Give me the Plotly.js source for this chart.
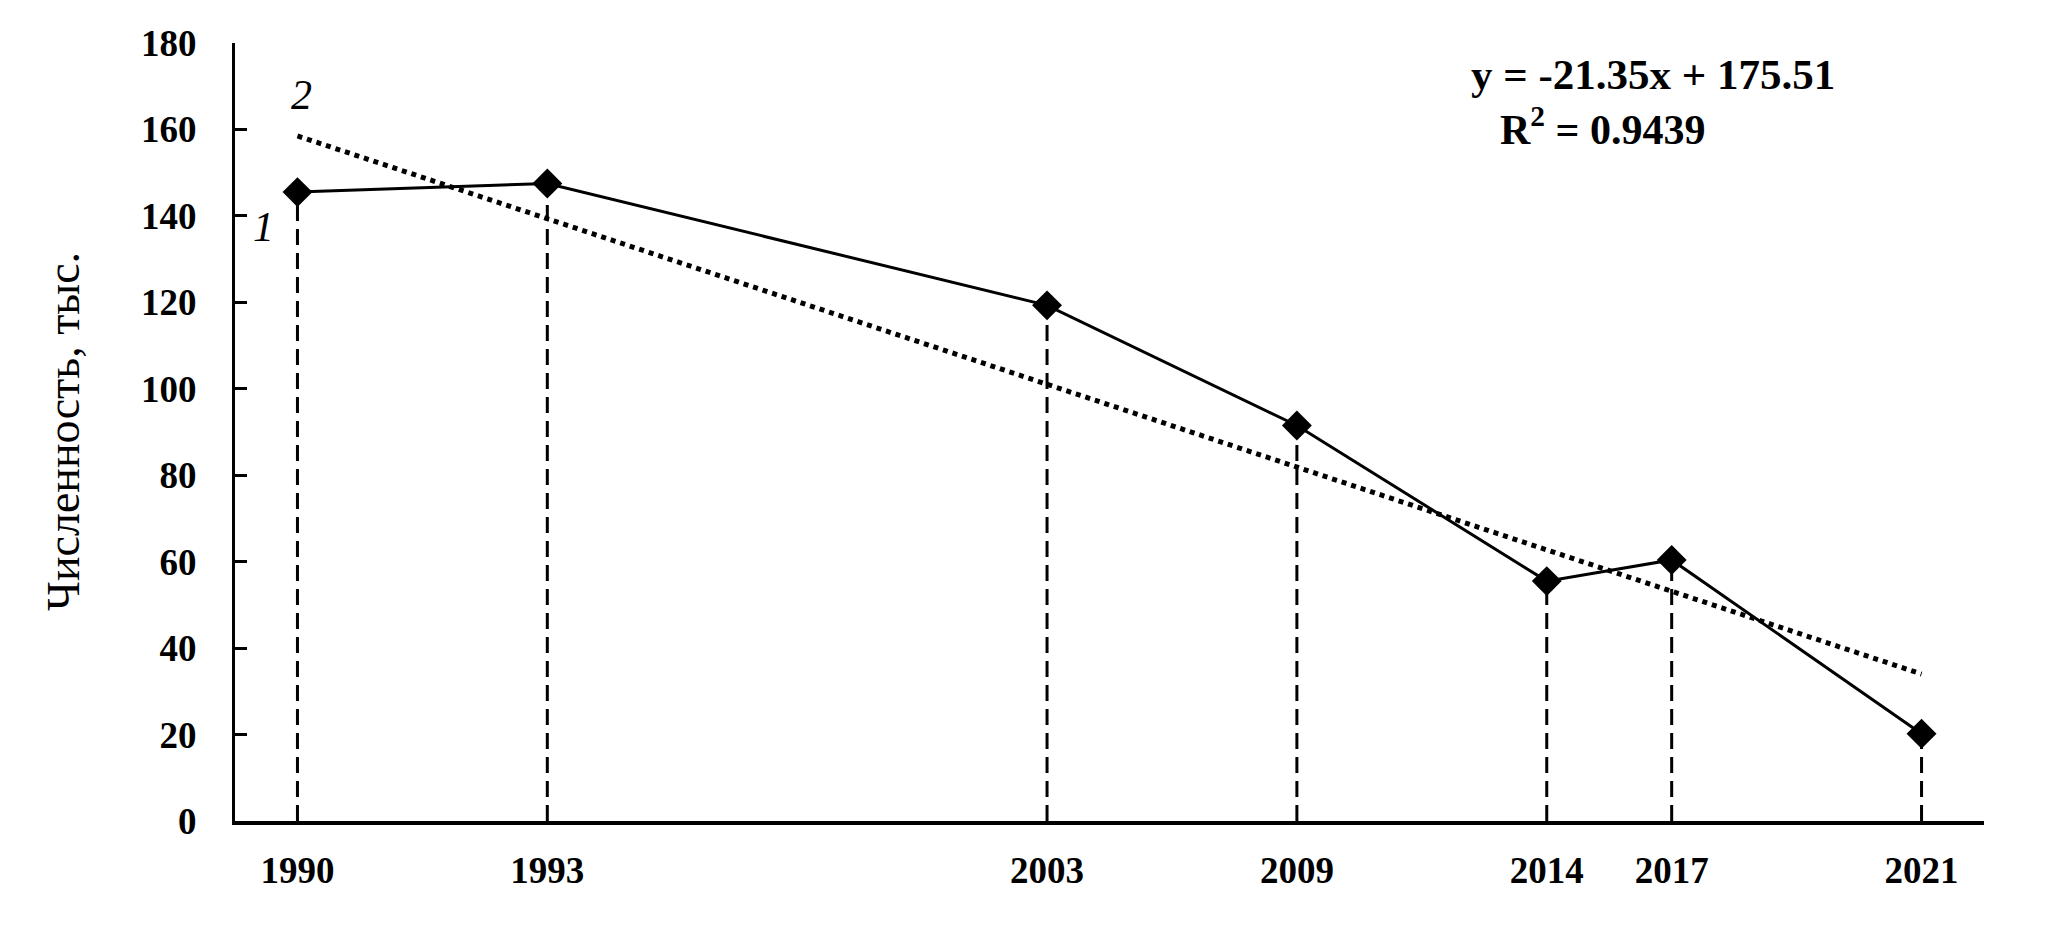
<!DOCTYPE html>
<html>
<head>
<meta charset="utf-8">
<script src="https://cdn.plot.ly/plotly-3.0.1.min.js"></script>
<style>
  html, body { margin: 0; padding: 0; background: #ffffff; }
  #chart { width: 2067px; height: 927px; }
</style>
</head>
<body>
<div id="chart"></div>
<script>
// ---- data ----
const years = ['1990', '1993', '2003', '2009', '2014', '2017', '2021'];
const slots = [0, 2, 6, 8, 10, 11, 13];            // category slot of each survey year on the axis
const population = [145.5, 147.5, 119.3, 91.5, 55.5, 60.4, 20.2]; // thousand
const trendEnds = [158.5, 34];                      // dotted linear trend at first and last year
const yTicks = [0, 20, 40, 60, 80, 100, 120, 140, 160, 180];
const equationText = 'y = -21.35x + 175.51';
const r2Text = 'R<sup>2</sup> = 0.9439';
const yTitle = 'Численность, тыс.';

const FONT = '"Liberation Serif", "Times New Roman", serif';

const traces = [];

// dashed drop lines from axis to each point
years.forEach((yr, i) => {
  traces.push({
    x: [slots[i], slots[i]],
    y: [0, population[i]],
    mode: 'lines',
    line: { color: '#000', width: 3, dash: '16px,8px' },
    hoverinfo: 'skip',
    showlegend: false
  });
});

// linear trend (dotted)
traces.push({
  x: [slots[0], slots[slots.length - 1]],
  y: trendEnds,
  mode: 'lines',
  line: { color: '#000', width: 5, dash: '5px,5px' },
  hoverinfo: 'skip',
  showlegend: false
});

// main series
traces.push({
  x: slots,
  y: population,
  text: years,
  mode: 'lines+markers',
  line: { color: '#000', width: 3 },
  marker: { symbol: 'diamond', size: 23, color: '#000' },
  showlegend: false
});

const layout = {
  width: 2067,
  height: 927,
  paper_bgcolor: '#fff',
  plot_bgcolor: '#fff',
  margin: { l: 235, r: 83, t: 43, b: 106 },
  font: { family: FONT, color: '#000' },
  xaxis: {
    range: [-0.5, 13.5],
    tickvals: slots,
    ticktext: years,
    ticks: '',
    showgrid: false,
    zeroline: false,
    showline: true,
    linecolor: '#000',
    linewidth: 4,
    ticklabelstandoff: 14,
    tickfont: { family: FONT, size: 37, color: '#000', weight: 'bold' },
    fixedrange: true
  },
  yaxis: {
    range: [0, 180],
    tickvals: yTicks,
    ticks: 'inside',
    ticklen: 12,
    tickwidth: 3,
    tickcolor: '#000',
    showgrid: false,
    zeroline: false,
    showline: true,
    linecolor: '#000',
    linewidth: 3,
    ticklabelstandoff: 28,
    tickfont: { family: FONT, size: 37, color: '#000', weight: 'bold' },
    fixedrange: true
  },
  annotations: [
    {
      text: yTitle, textangle: -90,
      xref: 'paper', yref: 'paper', x: 0, y: 0.5,
      xanchor: 'center', yanchor: 'middle', xshift: -172,
      showarrow: false,
      font: { family: FONT, size: 46, color: '#000' }
    },
    {
      text: equationText,
      xref: 'paper', yref: 'paper', x: 0.811, y: 0.959,
      xanchor: 'center', yanchor: 'middle',
      showarrow: false,
      font: { family: FONT, size: 43, color: '#000', weight: 'bold' }
    },
    {
      text: r2Text,
      xref: 'paper', yref: 'paper', x: 0.782, y: 0.893,
      xanchor: 'center', yanchor: 'middle',
      showarrow: false,
      font: { family: FONT, size: 42, color: '#000', weight: 'bold' }
    },
    {
      text: '2',
      xref: 'x', yref: 'y', x: 0.03, y: 168,
      xanchor: 'center', yanchor: 'middle',
      showarrow: false,
      font: { family: FONT, size: 42, color: '#000', style: 'italic' }
    },
    {
      text: '1',
      xref: 'x', yref: 'y', x: -0.27, y: 137.5,
      xanchor: 'center', yanchor: 'middle',
      showarrow: false,
      font: { family: FONT, size: 42, color: '#000', style: 'italic' }
    }
  ]
};

Plotly.newPlot('chart', traces, layout, { displayModeBar: false, staticPlot: true });
</script>
</body>
</html>
